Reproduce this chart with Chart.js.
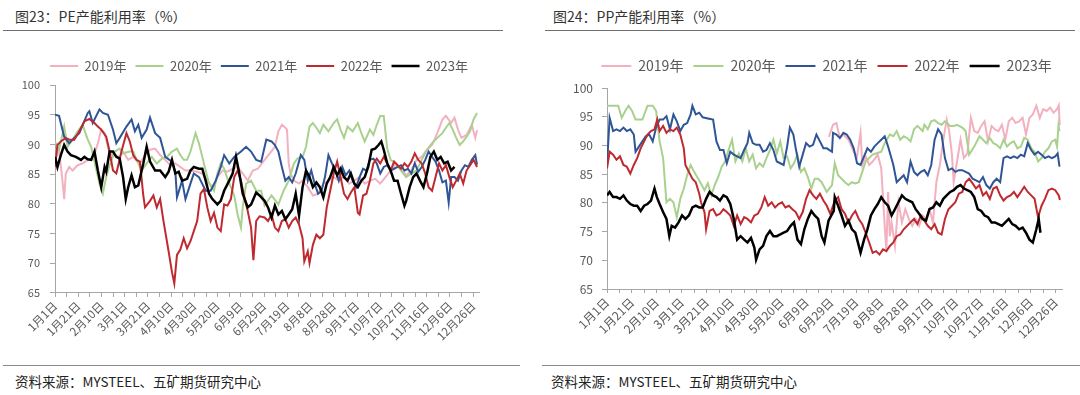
<!DOCTYPE html>
<html>
<head>
<meta charset="utf-8">
<script src="https://cdn.jsdelivr.net/npm/chart.js@4.4.0/dist/chart.umd.min.js"></script>
<style>
body{margin:0;background:#fff;width:1080px;height:395px;overflow:hidden;position:relative;font-family:"Noto Sans CJK SC","Noto Sans",sans-serif;}
.title{position:absolute;top:6px;font-size:14px;color:#333;}
.rule{position:absolute;height:0;border-top:1.5px solid #6f6f6f;}
.src{position:absolute;top:371px;font-size:13.5px;color:#222;}
canvas{position:absolute;top:40px;}
</style>
</head>
<body>
<div class="title" style="left:15px">图23：PE产能利用率（%）</div>
<div class="rule" style="left:3px;width:500px;top:30px"></div>
<div class="title" style="left:553px">图24：PP产能利用率（%）</div>
<div class="rule" style="left:545px;width:530px;top:30px"></div>
<canvas id="pe" width="518" height="305" style="left:0px"></canvas>
<canvas id="pp" width="535" height="303" style="left:545px"></canvas>
<div class="rule" style="left:3px;width:517px;top:365px;border-color:#8a8a8a"></div>
<div class="rule" style="left:542px;width:538px;top:365px;border-color:#8a8a8a"></div>
<div class="src" style="left:15px">资料来源：MYSTEEL、五矿期货研究中心</div>
<div class="src" style="left:551px">资料来源：MYSTEEL、五矿期货研究中心</div>
<script>
// x axis = day of year (leap-year calendar), ticks every 10 days, labels every 20
var tickLabels = ['1月1日','1月21日','2月10日','3月1日','3月21日','4月10日','4月30日','5月20日','6月9日','6月29日',
  '7月19日','8月8日','8月28日','9月17日','10月7日','10月27日','11月16日','12月6日','12月26日'];

var years = ['2019年','2020年','2021年','2022年','2023年'];

// [day, %]
var pe2019 = [[0,87.4],[3.5,89.1],[6.4,83.9],[7.9,80.8],[9.3,85.1],[12.2,86.2],[15.1,85.6],[19.5,86.5],[23.8,86.8],[28.2,87.4],
  [32.5,87.4],[36.9,90.2],[39.8,92.5],[42.7,91.9],[47,88.5],[51.4,88.2],[55.7,87.9],[58.6,88.8],[63,87.4],[67.3,87.9],
  [73.1,86.8],[77.5,88.2],[81.8,89.1],[86.2,89.3],[90.5,88.2],[94.9,87.4],[99.2,86.5],[103.6,86.8],[107.9,86.2],[112.3,85.6],
  [116.6,85.6],[122.4,85.4],[126.8,85.1],[131.1,83.9],[135.5,82.8],[139.8,84.5],[144.2,85.6],[148.5,85.4],[152.9,85.9],[157.2,86.2],
  [161.6,85.1],[165.9,83.9],[170.3,85.6],[174.6,85.9],[180.4,87.4],[184.9,88.5],[189.3,89.6],[192.3,92.2],[195.3,93.3],[198.3,92.8],
  [199.7,92.5],[201.2,86.8],[202.7,85.1],[205.7,83.9],[210.1,83.4],[213.1,83.9],[217.6,82.8],[222,81.4],[226.5,81.7],[231,83.4],
  [235.4,83.9],[239.9,84.5],[244.3,83.9],[248.8,84.5],[253.3,83.4],[257.7,83.9],[262.2,84.5],[266.6,83.4],[271.1,83.9],[275.6,84.2],
  [280,83.4],[284.5,84.5],[288.9,85.6],[293.4,86.8],[297.9,85.9],[302.3,84.8],[306.8,85.6],[311.2,87.4],[315.7,87.9],[320.2,89.1],
  [324.6,89.9],[329.1,91.9],[333.5,94.2],[336.5,94.8],[341,93.6],[343.9,94.5],[346.9,92.5],[349.9,91.1],[354.3,91.6],[358.8,93.3],
  [361.8,91.1],[363.3,92.4]];
var pe2020 = [[0,90.5],[3.5,89.1],[7.9,93.0],[10.8,89.6],[15.1,90.8],[19.5,92.2],[23.8,93.3],[28.2,90.8],[31.1,89.6],[34,87.1],
  [38.3,83.4],[41.2,81.7],[44.1,84.5],[47,86.5],[51.4,88.8],[55.7,89.3],[58.6,88.5],[64.4,88.8],[67.3,88.8],[70.2,87.4],
  [74.6,85.6],[78.9,86.8],[83.3,87.9],[87.6,86.8],[92,87.6],[96.3,87.9],[100.7,88.8],[105,89.3],[107.9,88.2],[110.8,87.4],
  [113.7,87.4],[116.6,88.8],[121,91.9],[123.9,90.2],[126.8,87.9],[129.7,85.6],[132.6,83.4],[136.9,82.2],[139.8,85.1],[142.7,86.8],
  [145.6,85.9],[148.5,84.2],[151.4,82.8],[154.3,81.4],[157.2,78.2],[160.1,76.0],[161.6,79.4],[164.5,83.4],[168.8,83.9],[173.2,82.2],
  [177.5,82.2],[180.4,79.7],[186.4,81.4],[192.3,79.9],[196.8,82.2],[201.2,83.9],[205.7,86.8],[208.7,87.6],[213.1,87.9],[216.1,89.6],
  [219.1,93.0],[222,93.6],[225,92.8],[228,91.9],[231,93.3],[235.4,92.2],[239.9,93.6],[242.9,94.2],[245.8,92.5],[248.8,91.1],
  [251.8,93.0],[256.2,92.2],[260.7,93.6],[263.7,91.9],[266.6,90.5],[271.1,92.5],[274.1,91.6],[277,93.3],[280,94.8],[283,94.8],
  [286,89.3],[288.9,87.4],[293.4,86.8],[297.9,85.6],[302.3,84.5],[306.8,85.1],[311.2,85.6],[315.7,87.4],[320.2,89.1],[324.6,90.2],
  [329.1,91.1],[333.5,91.9],[336.5,92.8],[339.5,93.6],[342.4,92.5],[345.4,91.1],[348.4,89.9],[351.4,90.5],[354.3,91.3],[357.3,92.2],
  [360.3,94.2],[363.3,95.3]];
var pe2021 = [[0,95.0],[3.5,94.8],[7.9,91.3],[12.2,90.2],[16.6,91.1],[20.9,91.9],[28.2,95.3],[29.6,95.6],[32.5,93.6],[38.3,95.9],
  [41.2,95.3],[45.6,95.0],[49.9,92.5],[52.8,90.2],[55.7,91.1],[61.5,93.0],[65.9,94.2],[68.8,92.2],[71.7,93.3],[74.6,91.1],
  [78.9,92.5],[81.8,94.5],[86.2,91.9],[90.5,91.1],[94.9,87.9],[100.7,87.1],[103.6,85.4],[105,81.1],[109.4,83.9],[112.3,80.8],
  [116.6,83.4],[119.5,85.1],[123.9,84.5],[129.7,82.2],[134,82.2],[138.4,83.9],[142.7,86.2],[145.6,88.2],[150,86.8],[154.3,87.9],
  [160.1,88.8],[164.5,89.6],[168.8,88.8],[173.2,87.4],[177.5,87.1],[181.9,90.8],[186.4,90.5],[189.3,89.9],[192.3,88.8],[195.3,86.2],
  [198.3,83.9],[201.2,84.5],[204.2,83.6],[207.2,85.1],[211.6,88.2],[214.6,87.4],[217.6,83.9],[220.6,85.6],[223.5,83.4],[226.5,81.7],
  [229.5,82.2],[232.4,84.5],[235.4,88.2],[238.4,86.8],[241.4,85.6],[244.3,83.9],[247.3,86.2],[250.3,84.8],[253.3,85.6],[256.2,83.9],
  [259.2,82.8],[262.2,84.5],[265.2,85.9],[268.1,85.6],[271.1,87.4],[274.1,87.6],[277,86.8],[280,85.1],[283,86.2],[286,86.5],
  [288.9,85.6],[291.9,85.9],[294.9,86.2],[297.9,86.5],[300.8,85.6],[303.8,85.9],[306.8,85.1],[309.7,86.8],[312.7,85.4],[315.7,86.2],
  [318.7,87.4],[321.6,88.8],[324.6,87.9],[327.6,87.1],[330.6,85.6],[333.5,83.6],[336.5,83.9],[338.9,80.2],[341,84.5],[343.9,84.5],
  [346.9,83.9],[349.9,85.6],[352.9,86.5],[355.8,86.2],[358.8,87.4],[361.8,88.2],[363.3,86.6]];
var pe2022 = [[0,86.2],[2.1,89.9],[5,90.5],[9.3,91.1],[12.2,90.8],[16.6,90.8],[20.9,92.2],[25.3,93.9],[29.6,94.3],[34,93.6],
  [36.9,93.0],[39.8,92.5],[44.1,91.3],[47,88.8],[49.9,85.6],[52.8,85.1],[57.2,88.8],[61.5,91.9],[64.4,90.5],[67.3,88.2],
  [70.2,87.4],[73.1,87.1],[76,81.4],[77.5,79.4],[81.8,80.5],[84.7,81.4],[87.6,79.4],[90.5,80.8],[93.4,77.1],[97.8,72.0],
  [100.7,68.5],[102.7,66.6],[105,71.4],[107.9,72.3],[110.8,74.2],[113.7,72.5],[116.6,73.7],[119.5,75.4],[122.4,77.1],[125.3,81.7],
  [128.2,82.5],[131.1,79.4],[134,77.1],[136.9,78.5],[139.8,76.0],[142.7,75.4],[145.6,79.9],[148.5,79.7],[151.4,80.8],[154.3,84.5],
  [157.2,85.6],[160.1,83.9],[163,81.1],[165.9,78.8],[168.8,76.0],[170.8,70.5],[173.2,77.1],[176.1,77.9],[180.4,77.7],[183.4,77.1],
  [186.4,78.2],[189.3,76.0],[192.3,75.4],[195.3,77.1],[198.3,77.4],[201.2,76.0],[204.2,77.1],[207.2,77.7],[210.1,76.5],[213.1,74.2],
  [214.6,70.3],[217.6,72.0],[219.1,70.0],[222,73.1],[225,74.8],[228,74.2],[231,74.8],[233.9,79.4],[236.9,82.2],[239.9,85.1],
  [242.9,87.1],[245.8,84.5],[248.8,81.7],[251.8,80.8],[254.7,81.9],[257.7,82.8],[260.7,78.5],[262.2,78.2],[265.2,81.4],[268.1,81.7],
  [271.1,83.9],[274.1,86.8],[277,87.6],[280,86.8],[283,87.9],[286,86.8],[288.9,85.6],[291.9,87.1],[294.9,86.5],[297.9,85.9],
  [300.8,86.8],[303.8,86.2],[306.8,87.1],[309.7,88.5],[312.7,87.4],[315.7,86.8],[318.7,85.1],[321.6,82.8],[324.6,82.2],[327.6,84.5],
  [330.6,86.8],[333.5,85.6],[336.5,86.5],[339.5,84.5],[342.4,82.8],[345.4,83.9],[348.4,85.1],[351.4,83.4],[354.3,85.6],[357.3,86.5],
  [360.3,87.4],[363.3,86.2]];
var pe2023 = [[0,87.9],[2.1,86.2],[5,88.2],[7.9,89.9],[10.8,88.8],[13.7,88.2],[18,87.9],[22.4,87.4],[25.3,87.9],[28.2,87.5],
  [31.1,87.4],[34,88.8],[36.9,85.6],[39.8,82.8],[42.7,86.2],[44.1,85.4],[47,88.8],[49.9,88.8],[52.8,87.9],[55.7,87.6],
  [58.6,84.5],[60.9,80.8],[63,82.8],[65.9,84.8],[68.8,82.8],[71.7,83.1],[76,86.8],[78.9,89.6],[81.8,87.1],[86.2,85.6],
  [90.5,85.6],[94.9,84.5],[97.8,85.4],[100.7,87.4],[103.6,85.1],[106.5,85.4],[109.4,83.9],[113.7,84.2],[116.6,85.6],[119.5,86.2],
  [123.9,85.9],[126.8,85.9],[129.7,83.9],[132.6,81.7],[135.5,80.8],[139.8,79.9],[142.7,80.5],[145.6,82.2],[150,83.9],[152.9,85.1],
  [155.8,87.9],[158.7,85.1],[161.6,81.7],[165.9,79.4],[168.8,79.9],[173.2,81.9],[176.1,81.4],[180.4,80.5],[183.4,79.4],[186.4,77.7],
  [189.3,79.7],[192.3,78.2],[195.3,78.8],[198.3,77.4],[201.2,78.2],[204.2,79.1],[207.2,81.7],[210.1,78.0],[213.1,82.8],[216.1,85.6],
  [219.1,84.5],[222,82.8],[225,83.6],[228,82.8],[231,81.1],[233.9,83.4],[236.9,84.5],[239.9,86.2],[242.9,84.8],[245.8,85.9],
  [248.8,84.5],[251.8,83.9],[254.7,85.1],[257.7,83.4],[260.7,82.8],[263.7,83.9],[266.6,84.5],[269.6,86.2],[272.6,89.1],[275.6,89.3],
  [278.5,89.9],[280.9,90.5],[283,89.1],[286,86.8],[288.9,85.6],[291.9,83.9],[294.9,83.9],[297.9,81.7],[300.8,79.7],[302.3,80.5],
  [305.3,82.8],[308.3,84.5],[311.2,85.1],[314.2,83.9],[317.2,82.8],[320.2,85.1],[323.1,87.9],[326.1,88.8],[329.1,87.4],[332,87.9],
  [335,86.8],[338,87.1],[341,85.6],[343.9,86.2]];

var pp2019 = [[178,91.5],[181.3,93.6],[184,93.9],[186.8,91.3],[189.6,91.9],[193.7,91.0],[197.9,88.9],[200.6,88.1],[203.4,92.2],[204.8,86.6],
  [207.5,88.1],[210.3,86.6],[213.1,87.2],[217.2,88.4],[220,86.0],[222.8,76.0],[224.1,71.6],[225.5,81.9],[226.9,74.2],[228.3,76.6],
  [231,72.5],[233.8,80.1],[236.6,76.6],[239.3,78.9],[242.1,77.2],[244.9,76.0],[247.6,77.2],[250.4,76.0],[253.2,77.8],[255.9,77.2],
  [258.7,78.9],[261.5,76.6],[264.2,83.6],[267,86.6],[269.8,91.0],[272.5,94.5],[274.5,92.5],[276.7,88.4],[278.1,83.6],[280.8,87.2],
  [283.6,91.0],[286.3,87.8],[289.1,88.6],[291.9,94.8],[294.6,92.5],[297.4,92.2],[300.2,93.4],[302.9,94.2],[305.7,90.7],[308.5,93.4],
  [311.2,92.8],[314,92.5],[316.8,93.6],[319.5,91.0],[322.3,94.2],[325.1,94.8],[327.8,93.9],[330.6,94.2],[333.4,94.8],[336.1,91.9],
  [338.9,94.8],[341.6,95.4],[344.4,96.9],[347.2,94.8],[349.9,96.3],[352.7,96.0],[355.5,96.6],[358.2,95.7],[361,96.3],[362.4,97.0],
  [363.2,93.5]];
var pp2020 = [[0,96.9],[3.5,96.9],[9,96.9],[11.8,94.8],[14.6,96.0],[17.3,96.9],[20.1,96.0],[22.9,94.5],[28.4,94.5],[32.5,96.9],
  [36.7,96.9],[39.4,96.0],[42.2,90.7],[45,87.8],[47.7,80.1],[50.5,80.7],[53.3,80.1],[56,77.5],[58.8,80.7],[61.6,82.5],
  [64.3,84.8],[67.1,86.6],[69.9,85.4],[74,83.9],[78.2,82.2],[80.9,83.4],[83.7,81.3],[86.4,83.1],[89.2,84.5],[92,86.3],
  [94.7,87.2],[97.5,89.2],[100.3,91.0],[103,87.2],[105.8,88.6],[108.6,87.2],[111.3,89.5],[114.1,87.2],[116.9,88.4],[119.6,86.0],
  [122.4,86.9],[125.2,86.3],[127.9,87.8],[130.7,89.2],[133.5,91.0],[136.2,88.6],[139,90.7],[141.7,87.8],[144.5,88.1],[147.3,86.0],
  [150,86.9],[152.8,88.4],[155.6,85.4],[158.3,86.0],[161.1,84.5],[163.9,82.5],[166.6,84.2],[169.4,84.2],[172.2,83.6],[176.3,81.9],
  [180.5,83.1],[182.7,86.9],[185.4,84.8],[188.2,84.2],[190.9,83.6],[193.7,83.1],[196.5,83.6],[199.2,83.4],[202,83.6],[204.8,85.4],
  [207.5,87.2],[210.3,87.8],[213.1,88.4],[215.8,88.6],[220,88.9],[222.8,90.4],[226.9,91.9],[229.7,91.6],[232.4,92.5],[235.2,91.0],
  [238,91.6],[240.7,91.3],[243.5,90.7],[246.3,92.8],[249,93.4],[253.2,92.5],[254.6,93.6],[257.3,92.8],[260.1,94.2],[262.8,94.4],
  [265.6,93.9],[268.4,93.6],[271.1,94.2],[275.3,93.4],[278.1,93.4],[280.8,93.6],[285,93.1],[287.7,92.5],[290.5,88.4],[294.6,89.8],
  [298.8,91.6],[301.6,91.0],[304.3,90.4],[307.1,91.3],[309.9,90.4],[312.6,90.1],[315.4,89.5],[318.1,91.0],[320.9,89.8],[323.7,90.4],
  [326.4,90.7],[329.2,89.5],[332,89.8],[334.7,91.3],[337.5,91.0],[340.3,89.5],[343,88.9],[345.8,87.2],[348.6,87.8],[351.3,88.9],
  [354.1,89.5],[356.9,90.7],[359.6,91.0],[361,89.8],[362.2,93.5],[363,92.5]];
var pp2021 = [[0,86.5],[2.1,94.8],[4.9,92.5],[7.6,92.8],[10.4,92.5],[13.2,93.1],[15.9,92.5],[18.7,92.8],[21.5,91.9],[22.9,88.9],
  [25.6,89.8],[28.4,90.7],[31.1,91.6],[33.9,91.9],[36.7,90.7],[39.4,93.1],[42.2,94.5],[45,94.5],[47.7,95.1],[50.5,92.8],
  [53.3,95.4],[56,94.2],[58.8,92.5],[61.6,93.6],[64.3,93.9],[67.1,95.4],[68.5,96.9],[71.2,95.4],[74,95.7],[76.8,94.9],
  [80.9,94.7],[85.1,94.5],[87.8,90.7],[90.6,89.2],[93.4,89.2],[96.1,86.9],[98.9,88.9],[101.7,88.4],[104.4,88.1],[107.2,87.8],
  [110,89.2],[112.7,90.4],[114.1,92.2],[116.9,90.4],[119.6,90.1],[122.4,90.1],[125.2,88.9],[127.9,89.2],[130.7,90.4],[133.5,89.2],
  [136.2,87.2],[139,86.9],[141.7,86.6],[144.5,89.8],[146.7,93.1],[149.5,91.9],[151.4,89.5],[154.2,86.3],[157,88.4],[159.7,90.4],
  [162.5,89.8],[165.3,90.1],[168,91.9],[170.8,90.7],[173.6,89.5],[176.3,89.5],[180.5,88.9],[181.3,92.2],[184,91.9],[186.8,91.3],
  [189.6,92.2],[192.3,91.9],[195.1,91.0],[197.9,89.5],[200.6,86.9],[203.4,86.6],[206.2,88.1],[208.9,89.5],[211.7,88.9],[214.5,89.8],
  [217.2,90.4],[220,91.0],[222.8,91.6],[225.5,89.8],[229.7,86.6],[232.4,83.6],[235.2,84.2],[238,84.8],[240.7,83.6],[243.5,87.2],
  [246.3,85.4],[249,84.8],[251.8,85.4],[254.6,85.7],[257.3,84.8],[260.1,86.6],[262.8,91.0],[265.6,92.8],[268.4,91.9],[271.1,87.8],
  [273.9,85.7],[276.7,86.0],[279.4,85.4],[282.2,85.7],[285,85.7],[287.7,85.4],[290.5,85.1],[293.3,84.2],[296,83.9],[298.8,83.6],
  [301.6,84.5],[304.3,83.1],[307.1,82.5],[309.9,83.6],[312.6,84.2],[315.4,83.6],[318.1,87.8],[320.9,88.1],[323.7,87.8],[326.4,88.1],
  [329.2,87.8],[332,88.4],[334.7,88.1],[337.5,90.4],[340.3,89.2],[343,88.4],[345.8,88.9],[348.6,88.4],[351.3,87.8],[354.1,88.1],
  [356.9,87.8],[359.6,88.1],[361.5,88.6],[363,86.3]];
var pp2022 = [[0,86.0],[2.1,88.9],[4.9,88.4],[7.6,87.5],[10.4,88.1],[13.2,86.6],[15.9,86.3],[18.7,85.1],[21.5,86.6],[24.2,87.8],
  [27,89.5],[29.8,90.7],[32.5,91.9],[35.3,92.5],[38.1,92.8],[40.3,94.5],[42.2,92.5],[45,93.4],[47.7,92.2],[50.5,92.8],
  [53.3,92.5],[56,93.1],[58.8,91.9],[61.6,89.5],[62.9,86.6],[65.7,85.4],[68.5,84.2],[71.2,83.6],[74,81.6],[75.4,80.1],
  [78.2,78.4],[79.5,75.4],[82.3,78.6],[85.1,78.9],[87.8,77.8],[90.6,78.1],[93.4,78.9],[96.1,78.4],[98.9,77.8],[101.7,76.0],
  [104.4,77.8],[107.2,76.3],[110,77.5],[112.7,77.2],[115.5,76.6],[118.2,77.8],[121,78.1],[123.8,79.2],[126.5,81.0],[129.3,79.5],
  [132.1,80.1],[134.8,79.2],[137.6,79.8],[140.4,80.1],[143.1,79.2],[145.9,79.5],[148.7,78.9],[151.4,78.4],[154.2,77.2],[157,78.4],
  [159.7,80.7],[162.5,82.2],[165.3,81.3],[168,80.7],[170.8,81.6],[173.6,80.4],[176.3,79.5],[179.1,78.1],[182.7,80.4],[185.4,81.0],
  [188.2,78.9],[190.9,78.1],[193.7,76.6],[196.5,77.8],[199.2,78.6],[202,77.2],[204.8,76.3],[207.5,74.8],[210.3,73.1],[213.1,71.3],
  [215.8,71.6],[218.6,71.0],[221.4,71.9],[224.1,71.6],[226.9,72.5],[229.7,73.1],[232.4,74.2],[235.2,74.5],[238,75.4],[240.7,76.0],
  [243.5,76.6],[246.3,77.2],[249,76.3],[251.8,77.8],[254.6,76.9],[257.3,76.0],[260.1,75.4],[262.8,76.3],[265.6,74.8],[268.4,74.5],
  [271.1,77.2],[273.9,78.9],[276.7,79.5],[279.4,80.1],[282.2,81.6],[285,81.9],[287.7,83.6],[290.5,84.2],[293.3,83.4],[296,82.5],
  [298.8,83.1],[301.6,81.3],[304.3,81.9],[307.1,80.7],[309.9,82.5],[312.6,82.8],[315.4,81.3],[318.1,80.4],[320.9,81.0],[323.7,81.3],
  [326.4,81.9],[329.2,81.0],[332,81.9],[334.7,82.8],[337.5,81.9],[340.3,81.3],[343,80.7],[345.8,77.5],[348.6,79.5],[351.3,80.7],
  [354.1,82.2],[356.9,82.5],[359.6,82.2],[362.4,81.3],[363.3,80.5]];
var pp2023 = [[0,81.3],[2.1,81.9],[4.9,81.0],[7.6,81.0],[10.4,80.7],[13.2,81.3],[15.9,80.4],[18.7,79.8],[21.5,79.5],[24.2,79.5],
  [27,78.6],[29.8,79.5],[32.5,79.8],[35.3,80.4],[38.1,82.5],[40,81.0],[42.2,79.8],[45,78.4],[47.7,77.2],[50,74.2],
  [51.9,76.0],[54.6,75.7],[57.4,76.6],[60.2,77.8],[62.9,77.2],[65.7,77.8],[68.5,79.2],[71.2,79.5],[74,79.2],[76.8,79.2],
  [79.5,80.7],[82.3,81.9],[85.1,81.3],[87.8,81.0],[90.6,80.4],[93.4,81.3],[96.1,81.0],[98.9,79.8],[101.7,77.2],[104.4,73.6],
  [107.2,74.2],[110,73.6],[112.7,73.1],[115.5,73.9],[118.2,72.2],[119.6,70.1],[122.4,71.9],[125.2,72.5],[127.9,74.2],[130.7,75.1],
  [133.5,74.2],[136.2,74.2],[139,74.5],[141.7,74.8],[144.5,75.1],[147.3,76.0],[150,76.6],[152.8,73.6],[155.6,72.8],[158.3,75.4],
  [161.1,77.2],[163.9,78.6],[166.6,77.8],[169.4,77.2],[172.2,74.2],[174.4,73.1],[177.7,76.9],[181.9,78.6],[182.7,81.0],[185.4,79.5],
  [188.2,77.8],[190.9,76.0],[193.7,76.9],[196.5,75.4],[199.2,74.8],[202,72.5],[203.4,71.3],[206.2,73.6],[208.9,75.4],[211.7,77.8],
  [214.5,78.9],[217.2,79.8],[220,81.0],[222.8,80.1],[225.5,79.5],[228.3,77.8],[231,78.9],[233.8,80.1],[236.6,81.3],[239.3,80.7],
  [242.1,80.4],[244.9,80.1],[247.6,78.9],[250.4,78.1],[253.2,77.2],[255.9,76.9],[258.7,78.9],[261.5,79.2],[264.2,80.1],[267,79.5],
  [269.8,80.7],[272.5,81.3],[275.3,81.9],[278.1,82.2],[280.8,82.8],[283.6,83.1],[286.3,82.5],[289.1,82.2],[291.9,81.9],[294.6,81.0],
  [297.4,78.9],[300.2,78.6],[302.9,77.8],[305.7,77.5],[308.5,76.6],[311.2,76.6],[314,76.3],[316.8,76.0],[319.5,76.6],[322.3,77.2],
  [325.1,76.3],[327.8,76.0],[330.6,75.4],[333.4,75.7],[336.1,74.8],[338.9,73.6],[341.6,73.1],[344.4,75.4],[346.3,77.2],[347.7,74.8]];

var colors = ['#F3B1BF','#A9D18E','#2F5597','#BE2A30','#000000'];
var widths = [2,2,2,2,2.5];
var FONT = '"Noto Sans CJK SC","Noto Sans",sans-serif';

function makeChart(id, series, o) {
  var ds = [];
  for (var i = 0; i < series.length; i++) {
    ds.push({
      label: years[i],
      data: series[i].map(function (p) { return {x: p[0], y: p[1]}; }),
      borderColor: colors[i],
      backgroundColor: colors[i],
      borderWidth: widths[i],
      pointRadius: 0,
      tension: 0,
      fill: false,
      order: 5 - i,   // later years drawn on top
      xAxisID: 'x',
      yAxisID: 'y'
    });
  }
  return new Chart(document.getElementById(id), {
    type: 'line',
    data: {datasets: ds},
    options: {
      responsive: false,
      animation: false,
      events: [],
      layout: {padding: {top: o.padTop, left: o.padLeft, right: 0, bottom: 0}},
      plugins: {
        tooltip: {enabled: false},
        legend: {
          position: 'top',
          align: 'center',
          labels: {
            usePointStyle: true,
            pointStyle: 'line',
            pointStyleWidth: o.legLine,
            padding: o.legPad,
            color: '#595959',
            font: {size: o.legFont, family: FONT},
            sort: function (a, b) { return a.datasetIndex - b.datasetIndex; }
          }
        }
      },
      scales: {
        x: {
          type: 'linear', position: 'bottom', min: 0, max: 365,
          ticks: {
            stepSize: 10, autoSkip: false, includeBounds: false, minRotation: 45, maxRotation: 45,
            color: '#595959', font: {size: o.tickFont, family: FONT}, padding: 2,
            callback: function (v) { return v % 20 === 0 ? tickLabels[v / 20] : ''; }
          },
          grid: {display: true, drawOnChartArea: false, drawTicks: true, tickLength: 4, color: '#A6A6A6'},
          border: {color: '#A6A6A6'}
        },
        y: {
          min: 65, max: 100,
          ticks: {stepSize: 5, color: '#595959', font: {size: o.yFont, family: FONT}, padding: o.yPad},
          grid: {display: true, drawOnChartArea: false, tickLength: 5, color: '#A6A6A6'},
          border: {color: '#A6A6A6'},
          afterFit: function (s) { s.width = o.yWidth; }
        },
        gapTop: {
          type: 'linear', position: 'top', display: true,
          ticks: {display: false}, grid: {display: false}, border: {display: false},
          afterFit: function (s) { s.height = o.gap; }
        },
        gapRight: {
          type: 'linear', position: 'right', display: true,
          ticks: {display: false}, grid: {display: false}, border: {display: false},
          afterFit: function (s) { s.width = o.rightW; }
        }
      }
    }
  });
}

makeChart('pe', [pe2019, pe2020, pe2021, pe2022, pe2023],
  {padTop: 10.5, padLeft: 0, legLine: 28, legPad: 9, legFont: 13, tickFont: 11.5, yFont: 11, yPad: 10, yWidth: 55, gap: 2.5, rightW: 39});
makeChart('pp', [pp2019, pp2020, pp2021, pp2022, pp2023],
  {padTop: 9, padLeft: 28, legLine: 30, legPad: 10, legFont: 14, tickFont: 12, yFont: 12, yPad: 9, yWidth: 34, gap: 5, rightW: 18});
</script>
</body>
</html>
